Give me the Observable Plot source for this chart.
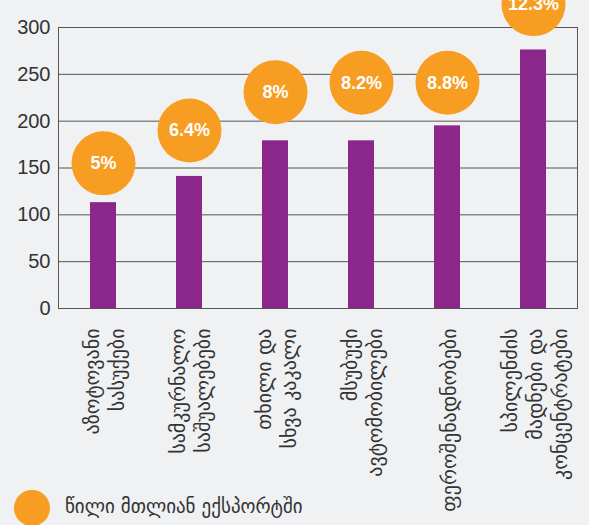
<!DOCTYPE html>
<html><head><meta charset="utf-8">
<script src="https://cdn.jsdelivr.net/npm/d3@7"></script>
<script src="https://cdn.jsdelivr.net/npm/@observablehq/plot@0.6"></script>
<style>
html,body{margin:0;padding:0;background:#f0f1f3;overflow:hidden;width:589px;height:525px}
#chart svg{display:block;background:#f0f1f3}
.legend{position:relative;height:37px;width:589px}
.legend .dot{position:absolute;left:14px;top:2px;width:36px;height:36px;border-radius:50%;background:#f79d21}
.legend .lbl{position:absolute;left:65px;top:7px;font-family:"DejaVu Sans",sans-serif;font-size:19px;color:#333;white-space:nowrap}
</style></head><body>
<div id="chart"></div>
<div class="legend"><span class="dot"></span><span class="lbl" id="legendLabel"></span></div>
<script>
const categories = [
  "აზოტოვანი\nსასუქები",
  "სამკურნალო\nსაშუალებები",
  "თხილი და\nსხვა კაკალი",
  "მსუბუქი\nავტომობილები",
  "ფეროშენადნობები",
  "სპილენძის\nმადნები და\nკონცენტრატები"
];
const values = [113, 141, 179, 179, 195, 276];
const shareLabels = ["5%", "6.4%", "8%", "8.2%", "8.8%", "12.3%"];
const bubbleLevel = [155, 190, 231, 241, 241, 325];
const yTicks = [0, 50, 100, 150, 200, 250, 300];
const legendText = "წილი მთლიან ექსპორტში";

const data = categories.map((c, i) => ({category: c, value: values[i], share: shareLabels[i], level: bubbleLevel[i]}));

const chart = Plot.plot({
  width: 589, height: 488,
  marginLeft: 58, marginRight: 12, marginTop: 27, marginBottom: 180,
  style: {background: "#f0f1f3", fontFamily: "'Liberation Sans', Arial, sans-serif", overflow: "visible"},
  x: {domain: categories, paddingInner: 0.7, paddingOuter: 0.35, axis: null},
  y: {domain: [0, 300], axis: null},
  marks: [
    Plot.ruleY(yTicks, {stroke: "#555", strokeWidth: 1}),
    Plot.frame({stroke: "#555", strokeWidth: 1}),
    Plot.axisY(yTicks, {tickSize: 0, tickPadding: 8, fontSize: 20, fill: "#333", label: null}),
    Plot.barY(data, {x: "category", y: "value", fill: "#8b268b"}),
    Plot.dot(data, {x: "category", y: "level", r: 32, fill: "#f79d21", stroke: null}),
    Plot.text(data, {x: "category", y: "level", text: "share", fill: "white", fontSize: 18, fontWeight: "bold"}),
    Plot.text(data, {x: "category", text: "category", frameAnchor: "bottom", dy: 20, rotate: -90,
      textAnchor: "end", lineAnchor: "middle", fontSize: 20, lineHeight: 1.25, fill: "#333",
      fontFamily: "'DejaVu Sans', sans-serif"})
  ]
});
document.getElementById("chart").append(chart);
document.getElementById("legendLabel").textContent = legendText;
</script>
</body></html>
